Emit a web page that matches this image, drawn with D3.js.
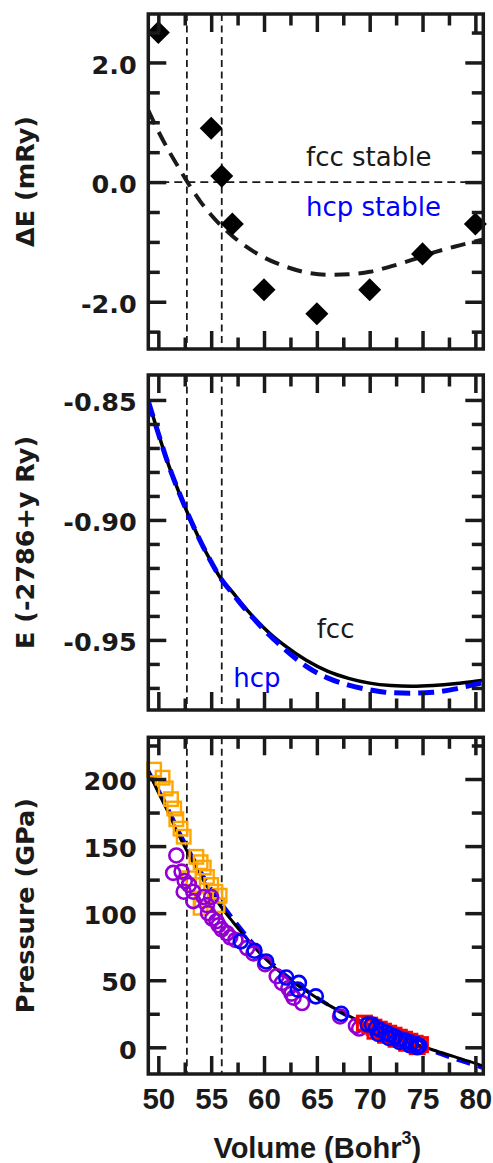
<!DOCTYPE html>
<html>
<head>
<meta charset="utf-8">
<script src="https://cdn.jsdelivr.net/npm/d3@7"></script>
<style>
  html, body { margin: 0; padding: 0; background: #fff; }
  svg { display: block; }
</style>
</head>
<body>
<svg id="chart" width="493" height="1163"></svg>
<script>
// ---------- data ----------
const volumeMajorTicks = [50, 55, 60, 65, 70, 75, 80];
const volumeMinorTicks = [52.5, 57.5, 62.5, 67.5, 72.5, 77.5];
const transitionVolumes = [52.7, 56.0];

// Panel 1: hcp - fcc energy difference (mRy)
const deltaEVolumes = [50, 55, 56, 57, 60, 65, 70, 75, 80];
const deltaEValues  = [2.5, 0.9, 0.1, -0.7, -1.8, -2.2, -1.8, -1.2, -0.7];
const deltaEFitVolumes = [49.05, 50, 51, 52, 53, 54, 55, 56, 57, 58, 60, 62, 64, 66, 68, 70, 72, 74, 76, 78, 80.75];
const deltaEFitValues  = [1.2, 0.85, 0.52, 0.22, -0.07, -0.33, -0.55, -0.74, -0.9, -1.04, -1.26, -1.41, -1.51, -1.55, -1.54, -1.5, -1.41, -1.3, -1.18, -1.08, -0.96];
const deltaEMajorTicks = [-2, 0, 2];
const deltaEMinorTicks = [-2.5, -1.5, -1, -0.5, 0.5, 1, 1.5, 2.5];

// Panel 2: total energy (Ry, offset -2786)
const energyVolumes = [49.05, 50, 51, 52, 53, 54, 55, 56, 57, 58, 59, 60, 61, 62, 64, 66, 68, 70, 72, 74, 76, 78, 80, 80.75];
const energyFcc = [-0.8505, -0.864, -0.8775, -0.889, -0.8995, -0.909, -0.9175, -0.925, -0.930, -0.9355, -0.9405, -0.945, -0.949, -0.9525, -0.9585, -0.963, -0.966, -0.968, -0.969, -0.9693, -0.969, -0.9683, -0.9672, -0.9668];
const energyHcp = [-0.8505, -0.864, -0.8775, -0.889, -0.8995, -0.909, -0.9175, -0.925, -0.9305, -0.936, -0.941, -0.9458, -0.950, -0.954, -0.961, -0.9658, -0.9688, -0.9708, -0.972, -0.9722, -0.9718, -0.9705, -0.9685, -0.9678];
const energyMajorTicks = [-0.95, -0.90, -0.85];
const energyMinorTicks = [-0.97, -0.96, -0.94, -0.93, -0.92, -0.91, -0.89, -0.88, -0.87, -0.86];

// Panel 3: pressure (GPa)
const pressureVolumes = [49.05, 50, 51, 52, 53, 54, 55, 56, 57, 58, 59, 60, 62, 64, 66, 68, 70, 72, 74, 76, 78, 80, 80.75];
const pressureFcc = [206, 190, 174, 157, 142, 128, 115, 104, 94, 84.5, 75.5, 67, 53, 42, 32, 23.5, 16, 9.5, 3.5, -2, -7, -12, -14];
const pressureHcp = [206, 192, 176.5, 160, 145, 131, 118, 107, 96.5, 86.5, 77, 68.5, 54, 42.5, 32, 23, 15.5, 8.5, 2.5, -3, -8.5, -13.5, -15.5];
const pressureMajorTicks = [0, 50, 100, 150, 200];
const pressureMinorTicks = [25, 75, 125, 175, 225];

// Measured compression points [volume, pressure]
const orangeSquares = [[49.6,207],[50.4,201],[50.7,193],[51.2,185],[51.5,178],[51.7,170],[52.1,163],[52.4,157],
  [53.6,142],[54.0,138],[54.3,134],[54.6,127],[55.0,121],[55.4,116],[55.8,113],[55.6,106],[54.1,110],[54.0,104],[53.3,121],[52.9,126]];
const purpleCircles = [[51.7,143],[51.4,130],[52.2,131],[52.5,124],[52.9,121],[52.4,116],[53.3,116],[53.3,109],[54.3,112],[55.0,112],
  [54.6,106],[54.7,100],[55.1,96],[55.5,94],[55.7,91],[56.0,88],[56.5,85],[56.8,82],[57.3,80],[58.4,74],[59.0,70],[60.1,62],
  [61.2,53],[61.7,48],[62.3,44],[62.6,40],[62.8,37],[63.6,33],[67.2,23],[68.7,16],[69.0,14]];
const redSquares = [[69.5,18],[70.0,16.5],[70.4,15],[70.9,13.5],[71.3,12],[71.8,10.5],[72.3,9],[72.8,7.5],[73.3,6],[73.8,4.5],
  [74.3,3],[74.8,2],[70.5,12],[71.5,9],[72.5,6],[73.5,3],[74.5,0.5]];
const blueCircles = [[57.8,79],[59.1,72],[60.2,64],[62.1,52],[63.3,48],[63.2,43],[64.9,38],[67.3,25],[69.8,17],[70.2,17],
  [70.6,14.5],[71.0,13],[71.5,11],[71.9,9.5],[72.4,8],[72.9,6],[73.4,5],[73.9,3.5],[74.4,2.5],[74.7,1],
  [70.8,10],[71.8,7],[72.8,4],[73.8,1.5],[74.5,0]];

// ---------- layout ----------
const svg = d3.select("#chart");
const X0 = 148.3, X1 = 483.3;
const INK = "#1a1a1a";
const BLUE = "#0000ff";
const x = d3.scaleLinear().domain([49.05, 80.75]).range([X0, X1]);

const panels = [
  { top: 14,    bottom: 349,  domain: [-2.79, 2.81],     majors: deltaEMajorTicks,   minors: deltaEMinorTicks,   fmt: d => d.toFixed(1), title: "\u0394E (mRy)" },
  { top: 375,   bottom: 710,  domain: [-0.9792, -0.8396], majors: energyMajorTicks,  minors: energyMinorTicks,   fmt: d => d.toFixed(2), title: "E (-2786+y Ry)" },
  { top: 737.3, bottom: 1074, domain: [-19.9, 231.1],    majors: pressureMajorTicks, minors: pressureMinorTicks, fmt: d => String(d),   title: "Pressure (GPa)" }
];

const defs = svg.append("defs");

panels.forEach((p, i) => {
  p.y = d3.scaleLinear().domain(p.domain).range([p.bottom, p.top]);
  p.g = svg.append("g");
  defs.append("clipPath").attr("id", "clip" + i)
    .append("rect").attr("x", X0).attr("y", p.top).attr("width", X1 - X0).attr("height", p.bottom - p.top);
  p.clip = p.g.append("g").attr("clip-path", `url(#clip${i})`);

  // dashed guides at the transition volumes
  p.clip.selectAll("line.guide").data(transitionVolumes).join("line")
    .attr("class", "guide")
    .attr("x1", d => x(d)).attr("x2", d => x(d))
    .attr("y1", p.top).attr("y2", p.bottom)
    .attr("stroke", INK).attr("stroke-width", 1.8).attr("stroke-dasharray", "7,4.5");
});

function styleAxis(sel) {
  sel.select(".domain").remove();
  sel.selectAll(".tick line").attr("stroke", INK).attr("stroke-width", 3.5);
}

function drawAxes(p, showXLabels) {
  const g = p.g.append("g");
  const majorLen = 18, minorLen = 11.5;
  // left, with labels
  g.append("g").attr("transform", `translate(${X0},0)`)
    .call(d3.axisLeft(p.y).tickValues(p.majors).tickSize(-majorLen).tickPadding(11.5).tickFormat(p.fmt))
    .call(styleAxis)
    .call(s => s.selectAll("text").attr("fill", INK).attr("dy", "0.42em")
      .style("font-family", "'DejaVu Sans', sans-serif").style("font-weight", "bold").style("font-size", "25.5px"));
  g.append("g").attr("transform", `translate(${X0},0)`)
    .call(d3.axisLeft(p.y).tickValues(p.minors).tickSize(-minorLen).tickFormat(""))
    .call(styleAxis);
  // right
  g.append("g").attr("transform", `translate(${X1},0)`)
    .call(d3.axisRight(p.y).tickValues(p.majors).tickSize(-majorLen).tickFormat(""))
    .call(styleAxis);
  g.append("g").attr("transform", `translate(${X1},0)`)
    .call(d3.axisRight(p.y).tickValues(p.minors).tickSize(-minorLen).tickFormat(""))
    .call(styleAxis);
  // top
  g.append("g").attr("transform", `translate(0,${p.top})`)
    .call(d3.axisTop(x).tickValues(volumeMajorTicks).tickSize(-majorLen).tickFormat(""))
    .call(styleAxis);
  g.append("g").attr("transform", `translate(0,${p.top})`)
    .call(d3.axisTop(x).tickValues(volumeMinorTicks).tickSize(-minorLen).tickFormat(""))
    .call(styleAxis);
  // bottom
  g.append("g").attr("transform", `translate(0,${p.bottom})`)
    .call(d3.axisBottom(x).tickValues(volumeMajorTicks).tickSize(-majorLen).tickPadding(14)
      .tickFormat(showXLabels ? d => String(d) : ""))
    .call(styleAxis)
    .call(s => s.selectAll("text").attr("fill", INK).attr("dy", "0.72em")
      .style("font-family", "'Liberation Sans', Arial, sans-serif").style("font-weight", "bold").style("font-size", "29.5px"));
  g.append("g").attr("transform", `translate(0,${p.bottom})`)
    .call(d3.axisBottom(x).tickValues(volumeMinorTicks).tickSize(-minorLen).tickFormat(""))
    .call(styleAxis);

  // frame
  g.append("rect").attr("x", X0).attr("y", p.top).attr("width", X1 - X0).attr("height", p.bottom - p.top)
    .attr("fill", "none").attr("stroke", INK).attr("stroke-width", 3.5);

  // y title
  g.append("text")
    .attr("transform", `translate(33.5,${(p.top + p.bottom) / 2}) rotate(-90)`)
    .attr("text-anchor", "middle").attr("fill", INK)
    .style("font-family", "'DejaVu Sans', sans-serif").style("font-weight", "bold").style("font-size", "25.5px")
    .text(p.title);
}

const zipPts = (xs, ys) => xs.map((v, i) => [v, ys[i]]);
const labelFont = s => s.style("font-family", "'DejaVu Sans', sans-serif").style("font-size", "26px");

// ---------- panel 1: energy difference ----------
{
  const p = panels[0];
  p.clip.append("line")
    .attr("x1", X0).attr("x2", X1).attr("y1", p.y(0)).attr("y2", p.y(0))
    .attr("stroke", INK).attr("stroke-width", 1.8).attr("stroke-dasharray", "8,5");
  const line = d3.line().curve(d3.curveMonotoneX).x(d => x(d[0])).y(d => p.y(d[1]));
  p.clip.append("path").datum(zipPts(deltaEFitVolumes, deltaEFitValues))
    .attr("d", line).attr("fill", "none").attr("stroke", INK).attr("stroke-width", 4)
    .attr("stroke-dasharray", "15,9");
  const diamond = d3.symbol(d3.symbolSquare, 265);
  p.g.selectAll("path.pt").data(zipPts(deltaEVolumes, deltaEValues)).join("path")
    .attr("class", "pt")
    .attr("transform", d => `translate(${x(d[0])},${p.y(d[1])}) rotate(45)`)
    .attr("d", diamond).attr("fill", "#000");
  p.g.append("text").attr("x", 306).attr("y", 165.7).attr("fill", INK).call(labelFont).text("fcc stable");
  p.g.append("text").attr("x", 306).attr("y", 216).attr("fill", BLUE).call(labelFont).text("hcp stable");
  drawAxes(p, false);
}

// ---------- panel 2: total energy ----------
{
  const p = panels[1];
  const line = d3.line().curve(d3.curveMonotoneX).x(d => x(d[0])).y(d => p.y(d[1]));
  p.clip.append("path").datum(zipPts(energyVolumes, energyFcc))
    .attr("d", line).attr("fill", "none").attr("stroke", "#000").attr("stroke-width", 3.5);
  p.clip.append("path").datum(zipPts(energyVolumes, energyHcp))
    .attr("d", line).attr("fill", "none").attr("stroke", BLUE).attr("stroke-width", 5)
    .attr("stroke-dasharray", "16,8");
  p.g.append("text").attr("x", 316.7).attr("y", 638.3).attr("fill", INK).call(labelFont).text("fcc");
  p.g.append("text").attr("x", 233.3).attr("y", 686.5).attr("fill", BLUE).call(labelFont).text("hcp");
  drawAxes(p, false);
}

// ---------- panel 3: pressure ----------
{
  const p = panels[2];
  const sq = 13.5, sqRed = 14, rad = 7;
  p.g.selectAll("rect.orange").data(orangeSquares).join("rect").attr("class", "orange")
    .attr("x", d => x(d[0]) - sq / 2).attr("y", d => p.y(d[1]) - sq / 2).attr("width", sq).attr("height", sq)
    .attr("fill", "none").attr("stroke", "#ffa500").attr("stroke-width", 2.4);
  p.g.selectAll("circle.purple").data(purpleCircles).join("circle").attr("class", "purple")
    .attr("cx", d => x(d[0])).attr("cy", d => p.y(d[1])).attr("r", rad)
    .attr("fill", "none").attr("stroke", "#9400d3").attr("stroke-width", 2.6);
  p.g.selectAll("rect.red").data(redSquares).join("rect").attr("class", "red")
    .attr("x", d => x(d[0]) - sqRed / 2).attr("y", d => p.y(d[1]) - sqRed / 2).attr("width", sqRed).attr("height", sqRed)
    .attr("fill", "none").attr("stroke", "#ff0000").attr("stroke-width", 3);
  p.g.selectAll("circle.blue").data(blueCircles).join("circle").attr("class", "blue")
    .attr("cx", d => x(d[0])).attr("cy", d => p.y(d[1])).attr("r", rad)
    .attr("fill", "none").attr("stroke", BLUE).attr("stroke-width", 2.6);

  const line = d3.line().curve(d3.curveMonotoneX).x(d => x(d[0])).y(d => p.y(d[1]));
  p.clip.append("path").datum(zipPts(pressureVolumes, pressureHcp))
    .attr("d", line).attr("fill", "none").attr("stroke", BLUE).attr("stroke-width", 4)
    .attr("stroke-dasharray", "14,8");
  p.clip.append("path").datum(zipPts(pressureVolumes, pressureFcc))
    .attr("d", line).attr("fill", "none").attr("stroke", "#000").attr("stroke-width", 3);
  drawAxes(p, true);

  // x title with superscript
  const t = svg.append("text").attr("x", (X0 + X1) / 2 + 1.5).attr("y", 1158).attr("text-anchor", "middle")
    .attr("fill", INK)
    .style("font-family", "'Liberation Sans', Arial, sans-serif").style("font-weight", "bold").style("font-size", "29px");
  t.append("tspan").text("Volume (Bohr");
  t.append("tspan").attr("dy", -14).style("font-size", "18px").text("3");
  t.append("tspan").attr("dy", 14).text(")");
}
</script>
</body>
</html>
